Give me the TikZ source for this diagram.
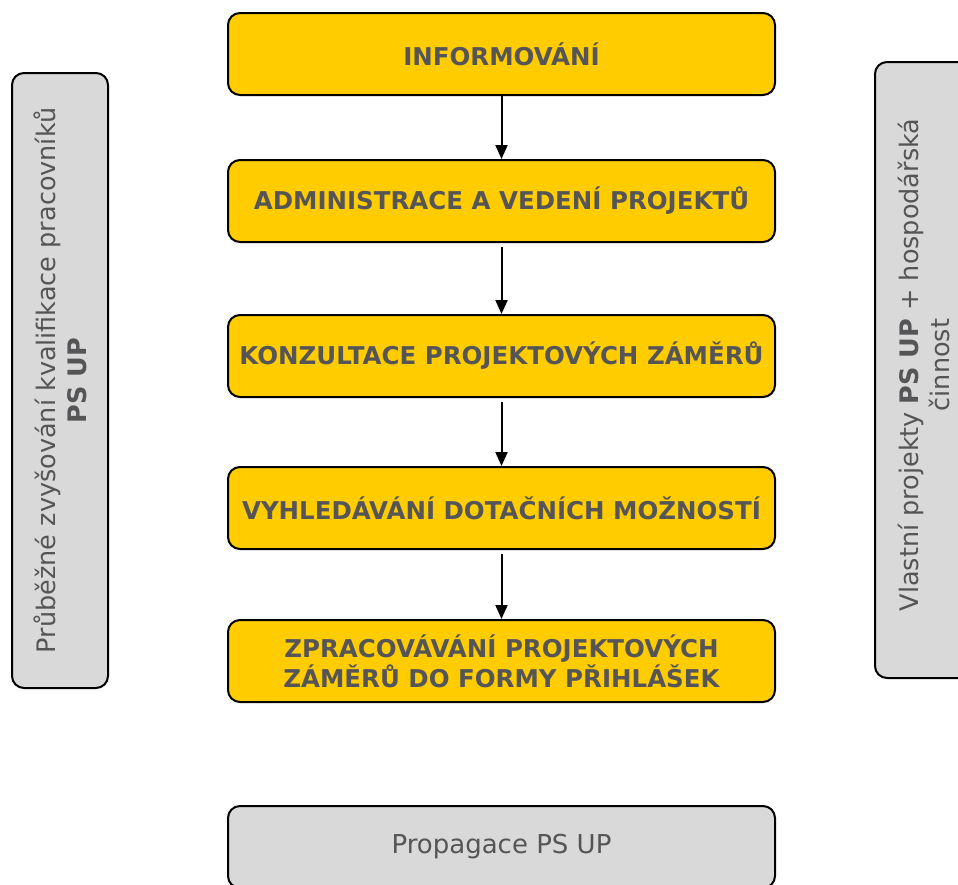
\documentclass[tikz,border=0pt]{standalone}
\usepackage{fontspec}
\setmainfont{DejaVu Sans}
\usetikzlibrary{arrows.meta}
\definecolor{boxyellow}{RGB}{255,204,0}
\definecolor{boxgray}{RGB}{217,217,217}
\definecolor{textgray}{RGB}{85,85,87}

\begin{document}
\begin{tikzpicture}[x=1pt,y=-1pt,
	stage/.style={draw, line width=2pt, rounded corners=12pt, fill=boxyellow,
		minimum width=547pt, minimum height=82pt, align=center, text=textgray,
		font=\fontsize{24.5}{30}\selectfont\bfseries},
	side/.style={draw, line width=2pt, rounded corners=12pt, fill=boxgray,
		align=center, text=textgray, rotate=90,
		font=\fontsize{25.5}{31}\selectfont},
	flow/.style={-{Triangle[width=12pt,length=14pt]}, line width=2pt}]
\clip (0,0) rectangle (958,884);
% main chain
\node[stage] (info) at (501.5,54) {INFORMOVÁNÍ};
\node[stage] (admin) at (501.5,201) {ADMINISTRACE A VEDENÍ PROJEKTŮ};
\node[stage] (konzult) at (501.5,356) {KONZULTACE PROJEKTOVÝCH ZÁMĚRŮ};
\node[stage] (vyhled) at (501.5,508) {VYHLEDÁVÁNÍ DOTAČNÍCH MOŽNOSTÍ};
\node[stage] (zprac) at (501.5,661) {ZPRACOVÁVÁNÍ PROJEKTOVÝCH\\ ZÁMĚRŮ DO FORMY PŘIHLÁŠEK};

% arrows
\draw[flow] (info) -- (admin);
\draw[flow] ([yshift=-4pt]admin.south) -- (konzult);
\draw[flow] ([yshift=-4pt]konzult.south) -- (vyhled);
\draw[flow] ([yshift=-4pt]vyhled.south) -- (zprac);

% gray boxes
\node[side, minimum width=615pt, minimum height=96pt] (kvalif) at (60,380.5)
	{Průběžné zvyšování kvalifikace pracovníků\\ \bfseries PS UP};
\node[side, minimum width=616pt, minimum height=107pt] (vlastni) at (928.5,370) {};
\node[side, draw=none, fill=none] (vlastnitext) at (924,365)
	{Vlastní projekty \textbf{PS UP} + hospodářská\\ činnost};
\node[stage, fill=boxgray, font=\fontsize{26}{30}\selectfont] (propag) at (501.5,847)
	{Propagace PS UP};
\end{tikzpicture}
\end{document}
